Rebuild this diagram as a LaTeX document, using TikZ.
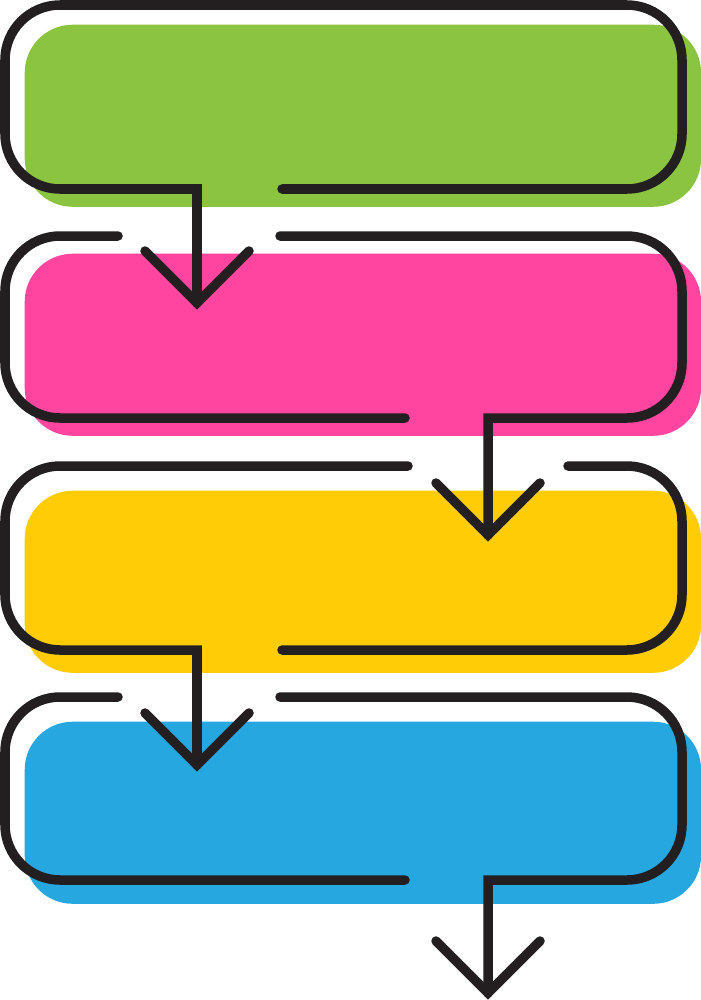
\documentclass[tikz,border=0pt]{standalone}
\definecolor{barGreen}{HTML}{8BC441}
\definecolor{barPink}{HTML}{FF45A0}
\definecolor{barYellow}{HTML}{FFCC05}
\definecolor{barBlue}{HTML}{27A7DF}
\definecolor{lineBlack}{HTML}{231F20}
\tikzset{
	band/.style = {
		rectangle,
		inner sep=0pt,
		rounded corners=0.48cm,
		minimum width=6.76cm,
		minimum height=1.82cm,
		anchor=north west
	},
	band_green/.style = {
		band,
		fill=barGreen
	},
	band_pink/.style = {
		band,
		fill=barPink
	},
	band_yellow/.style = {
		band,
		fill=barYellow
	},
	band_blue/.style = {
		band,
		fill=barBlue
	},
	outline/.style = {
		draw=lineBlack,
		line width=0.095cm,
		line cap=round,
		rounded corners=0.55cm
	},
	head/.style = {
		outline,
		sharp corners
	},
}

\begin{document}
\begin{tikzpicture}[x=0.01cm, y=-0.01cm]
\useasboundingbox (0,0) rectangle (701,1000);
% coloured bands
\node [band_green] (green) at (24,24) {};
\node [band_pink] (pink) at (24,253) {};
\node [band_yellow] (yellow) at (24,490) {};
\node [band_blue] (blue) at (24,721) {};
% arrow tips
\coordinate (tip1) at (197,303);
\coordinate (tip2) at (488,535);
\coordinate (tip3) at (197,765);
\coordinate (tip4) at (488,993);
% green outline
\draw [outline] (282,189) -- (682,189) -- (682,5) -- (5,5) -- (5,189) [sharp corners] -- (197,189) -- (tip1);
\draw [head] (tip1) ++(-52,-52) -- (tip1) -- ++(52,-52);
% pink outline
\draw [outline] (118,236) -- (5,236) -- (5,418) -- (405,418);
\draw [outline] (280,236) -- (682,236) -- (682,418) [sharp corners] -- (488,418) -- (tip2);
\draw [head] (tip2) ++(-52,-52) -- (tip2) -- ++(52,-52);
% yellow outline
\draw [outline] (568,466) -- (682,466) -- (682,650) -- (282,650);
\draw [outline] (408,466) -- (5,466) -- (5,650) [sharp corners] -- (197,650) -- (tip3);
\draw [head] (tip3) ++(-52,-52) -- (tip3) -- ++(52,-52);
% blue outline
\draw [outline] (118,697) -- (5,697) -- (5,880) -- (405,880);
\draw [outline] (280,697) -- (682,697) -- (682,880) [sharp corners] -- (488,880) -- (tip4);
\draw [head] (tip4) ++(-52,-52) -- (tip4) -- ++(52,-52);
\end{tikzpicture}
\end{document}
